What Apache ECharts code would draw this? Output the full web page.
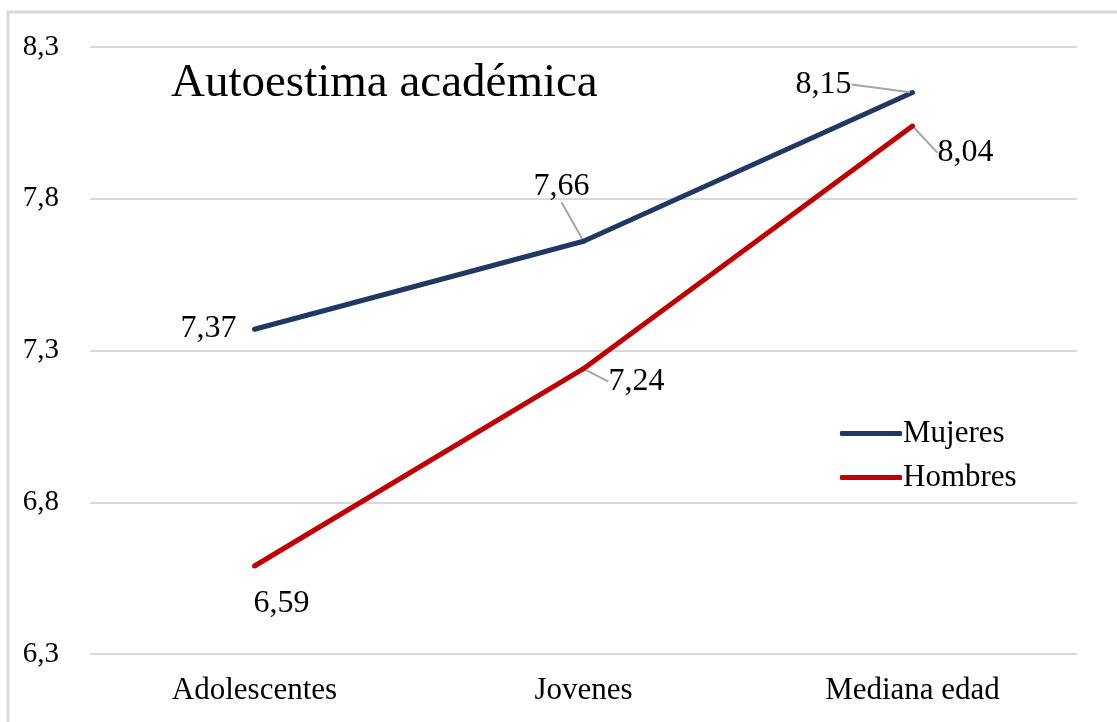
<!DOCTYPE html>
<html>
<head>
<meta charset="utf-8">
<script src="https://cdn.jsdelivr.net/npm/echarts@6/dist/echarts.min.js"></script>
<style>
  html, body { margin: 0; padding: 0; background: #fff; }
  #chart { width: 1117px; height: 722px; }
</style>
</head>
<body>
<div id="chart"></div>
<script>
// datos
const groups = ['Adolescentes', 'Jovenes', 'Mediana edad'];
const mujeres = [7.37, 7.66, 8.15];
const hombres = [6.59, 7.24, 8.04];
const yTicks = ['6,3', '6,8', '7,3', '7,8', '8,3'];
const yMin = 6.3, yMax = 8.3;

// desplazamiento de etiquetas (px)
const shiftM = [[-46, -1], [-22, -55], [-89, -8]];
const shiftH = [[27, 38], [53, 13], [53, 27]];

const font = '"Liberation Serif", "Times New Roman", serif';
const fmt = p => p.value.toFixed(2).replace('.', ',');

const mkData = vals => vals.map((v, i) => ({
  value: v,
  labelLine: { show: i > 0 }
}));

const chart = echarts.init(document.getElementById('chart'));

chart.setOption({
  animation: false,
  backgroundColor: '#fff',
  textStyle: { fontFamily: font },
  title: {
    text: 'Autoestima académica',
    left: 166, top: 55,
    textStyle: { fontFamily: font, fontSize: 47, fontWeight: 'normal', color: '#000' }
  },
  legend: {
    orient: 'vertical',
    left: 835, top: 413,
    itemWidth: 62, itemHeight: 5, itemGap: 13,
    icon: 'roundRect',
    textStyle: { fontFamily: font, fontSize: 31, color: '#000', padding: [0, 0, 0, -4] },
    data: ['Mujeres', 'Hombres']
  },
  graphic: [{
    type: 'rect',
    shape: { x: 8, y: 12, width: 1300, height: 900 },
    style: { fill: 'none', stroke: '#d9d9d9', lineWidth: 3 },
    silent: true
  }],
  grid: { left: 90, right: 40, top: 47, bottom: 68 },
  xAxis: {
    type: 'category',
    data: groups,
    boundaryGap: true,
    axisLine: { show: false },
    axisTick: { show: false },
    axisLabel: { fontFamily: font, fontSize: 31, color: '#000', margin: 21 }
  },
  yAxis: [{
    type: 'value',
    min: yMin, max: yMax,
    show: false
  }, {
    type: 'category',
    data: yTicks,
    boundaryGap: false,
    position: 'left',
    axisLine: { show: false },
    axisTick: { show: false },
    axisLabel: { interval: 0, fontFamily: font, fontSize: 29, color: '#000', margin: 31 },
    splitLine: { show: true, interval: 0, lineStyle: { color: '#d9d9d9', width: 2 } }
  }],
  series: [{
    name: 'Mujeres',
    type: 'line',
    yAxisIndex: 0,
    data: mkData(mujeres),
    color: '#203864',
    symbol: 'circle', symbolSize: 5,
    lineStyle: { width: 5, color: '#203864' },
    label: {
      show: true, position: 'inside', formatter: fmt,
      fontFamily: font, fontSize: 32, color: '#000'
    },
    labelLine: { show: true, lineStyle: { color: '#a6a6a6', width: 2 } },
    labelLayout: p => ({ dx: shiftM[p.dataIndex][0], dy: shiftM[p.dataIndex][1] })
  }, {
    name: 'Hombres',
    type: 'line',
    yAxisIndex: 0,
    data: mkData(hombres),
    color: '#c00000',
    symbol: 'circle', symbolSize: 5,
    lineStyle: { width: 5, color: '#c00000' },
    label: {
      show: true, position: 'inside', formatter: fmt,
      fontFamily: font, fontSize: 32, color: '#000'
    },
    labelLine: { show: true, lineStyle: { color: '#a6a6a6', width: 2 } },
    labelLayout: p => ({ dx: shiftH[p.dataIndex][0], dy: shiftH[p.dataIndex][1] })
  }]
});
</script>
</body>
</html>
